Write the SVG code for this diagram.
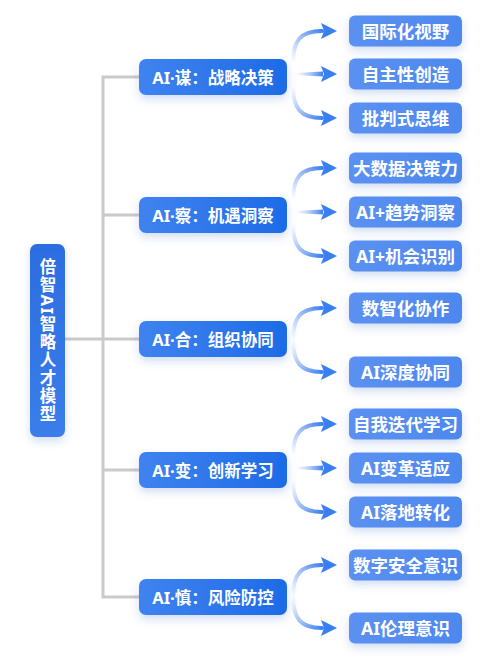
<svg xmlns="http://www.w3.org/2000/svg" xmlns:xlink="http://www.w3.org/1999/xlink" width="500" height="666" viewBox="0 0 500 666">
<defs>
<linearGradient id="gCat" x1="0" y1="0" x2="1" y2="0">
<stop offset="0" stop-color="#3f83f0"/>
<stop offset="1" stop-color="#1d6be7"/>
</linearGradient>
<linearGradient id="gRoot" x1="0" y1="0" x2="0" y2="1">
<stop offset="0" stop-color="#2c6de0"/>
<stop offset="1" stop-color="#3b7dea"/>
</linearGradient>
<linearGradient id="gLeaf" x1="0" y1="0" x2="1" y2="0">
<stop offset="0" stop-color="#5b91f1"/>
<stop offset="1" stop-color="#4d88ef"/>
</linearGradient>
<linearGradient id="gCurve" gradientUnits="userSpaceOnUse" x1="-44" y1="32" x2="-14" y2="0">
<stop offset="0" stop-color="#8fb4f5" stop-opacity="0"/>
<stop offset="0.45" stop-color="#7aa5f3" stop-opacity="0.6"/>
<stop offset="1" stop-color="#3a7ff0"/>
</linearGradient>
<linearGradient id="gStraight" gradientUnits="userSpaceOnUse" x1="-42" y1="0" x2="-14" y2="0">
<stop offset="0" stop-color="#8fb4f5" stop-opacity="0"/>
<stop offset="1" stop-color="#3a7ff0"/>
</linearGradient>
<filter id="sh" x="-20%" y="-30%" width="140%" height="190%">
<feDropShadow dx="0" dy="4" stdDeviation="4" flood-color="#3565c8" flood-opacity="0.22"/>
</filter>
<g id="arrUp">
<path d="M-44,32 C-44,9 -36,0 -15,0" fill="none" stroke="url(#gCurve)" stroke-width="4" stroke-linecap="round"/>
<polygon points="-16,-8 0,0 -16,8 -13,0" fill="#3a7ff0"/>
</g>
<g id="arrMid">
<polygon points="-42,-1 -14,-2.5 -14,2.5 -42,1" fill="url(#gStraight)"/>
<polygon points="-16,-8 0,0 -16,8 -13,0" fill="#3a7ff0"/>
</g>
</defs>
<style>
.ln{fill:none;stroke:#cacaca;stroke-width:3}
.cat rect{fill:url(#gCat)}
.leaf rect{fill:url(#gLeaf)}
text{font-family:"Noto Sans","Noto Sans CJK SC",sans-serif;font-weight:700;fill:#ffffff;text-anchor:middle;dominant-baseline:central}
.ct{font-size:16.5px}
.lt{font-size:17.5px}
.rt{font-size:16.5px;writing-mode:vertical-rl;letter-spacing:1.5px}
</style>
<rect width="500" height="666" fill="#ffffff"/>

<g id="connectors">
<path class="ln" d="M139,77 H103 V597 H139"/>
<path class="ln" d="M103,215 H139"/>
<path class="ln" d="M65,339 H139"/>
<path class="ln" d="M103,470 H139"/>
<use xlink:href="#arrUp" transform="translate(337,31)"/>
<use xlink:href="#arrMid" transform="translate(337,74)"/>
<use xlink:href="#arrUp" transform="translate(337,118) scale(1,-1)"/>
<use xlink:href="#arrUp" transform="translate(337,168)"/>
<use xlink:href="#arrMid" transform="translate(337,212)"/>
<use xlink:href="#arrUp" transform="translate(337,256) scale(1,-1)"/>
<use xlink:href="#arrUp" transform="translate(337,308)"/>
<use xlink:href="#arrUp" transform="translate(337,372) scale(1,-1)"/>
<use xlink:href="#arrUp" transform="translate(337,424)"/>
<use xlink:href="#arrMid" transform="translate(337,468)"/>
<use xlink:href="#arrUp" transform="translate(337,512) scale(1,-1)"/>
<use xlink:href="#arrUp" transform="translate(337,565)"/>
<use xlink:href="#arrUp" transform="translate(337,628) scale(1,-1)"/>
</g>

<g id="root">
<rect x="30" y="244" width="35" height="193" rx="7" fill="url(#gRoot)" filter="url(#sh)"/>
<text class="rt" x="47.5" y="341">倍智AI智略人才模型</text>
</g>

<g id="cat1" class="cat"><rect x="139" y="59" width="148" height="36" rx="7" filter="url(#sh)"/><text class="ct" x="213" y="77">AI·谋：战略决策</text></g>
<g id="cat2" class="cat"><rect x="139" y="197" width="148" height="36" rx="7" filter="url(#sh)"/><text class="ct" x="213" y="215">AI·察：机遇洞察</text></g>
<g id="cat3" class="cat"><rect x="139" y="321" width="148" height="36" rx="7" filter="url(#sh)"/><text class="ct" x="213" y="339">AI·合：组织协同</text></g>
<g id="cat4" class="cat"><rect x="139" y="452" width="148" height="36" rx="7" filter="url(#sh)"/><text class="ct" x="213" y="470">AI·变：创新学习</text></g>
<g id="cat5" class="cat"><rect x="139" y="579" width="148" height="36" rx="7" filter="url(#sh)"/><text class="ct" x="213" y="597">AI·慎：风险防控</text></g>

<g id="leaf1" class="leaf"><rect x="349" y="15.5" width="113" height="31" rx="6" filter="url(#sh)"/><text class="lt" x="405.5" y="31">国际化视野</text></g>
<g id="leaf2" class="leaf"><rect x="349" y="58.5" width="113" height="31" rx="6" filter="url(#sh)"/><text class="lt" x="405.5" y="74">自主性创造</text></g>
<g id="leaf3" class="leaf"><rect x="349" y="102.5" width="113" height="31" rx="6" filter="url(#sh)"/><text class="lt" x="405.5" y="118">批判式思维</text></g>
<g id="leaf4" class="leaf"><rect x="349" y="152.5" width="113" height="31" rx="6" filter="url(#sh)"/><text class="lt" x="405.5" y="168">大数据决策力</text></g>
<g id="leaf5" class="leaf"><rect x="349" y="196.5" width="113" height="31" rx="6" filter="url(#sh)"/><text class="lt" x="405.5" y="212">AI+趋势洞察</text></g>
<g id="leaf6" class="leaf"><rect x="349" y="240.5" width="113" height="31" rx="6" filter="url(#sh)"/><text class="lt" x="405.5" y="256">AI+机会识别</text></g>
<g id="leaf7" class="leaf"><rect x="349" y="292.5" width="113" height="31" rx="6" filter="url(#sh)"/><text class="lt" x="405.5" y="308">数智化协作</text></g>
<g id="leaf8" class="leaf"><rect x="349" y="356.5" width="113" height="31" rx="6" filter="url(#sh)"/><text class="lt" x="405.5" y="372">AI深度协同</text></g>
<g id="leaf9" class="leaf"><rect x="349" y="408.5" width="113" height="31" rx="6" filter="url(#sh)"/><text class="lt" x="405.5" y="424">自我迭代学习</text></g>
<g id="leaf10" class="leaf"><rect x="349" y="452.5" width="113" height="31" rx="6" filter="url(#sh)"/><text class="lt" x="405.5" y="468">AI变革适应</text></g>
<g id="leaf11" class="leaf"><rect x="349" y="496.5" width="113" height="31" rx="6" filter="url(#sh)"/><text class="lt" x="405.5" y="512">AI落地转化</text></g>
<g id="leaf12" class="leaf"><rect x="349" y="549.5" width="113" height="31" rx="6" filter="url(#sh)"/><text class="lt" x="405.5" y="565">数字安全意识</text></g>
<g id="leaf13" class="leaf"><rect x="349" y="612.5" width="113" height="31" rx="6" filter="url(#sh)"/><text class="lt" x="405.5" y="628">AI伦理意识</text></g>
</svg>
